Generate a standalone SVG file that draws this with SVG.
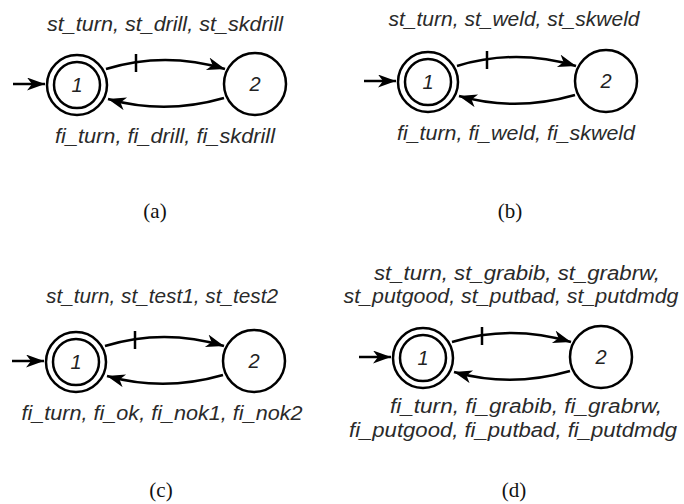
<svg xmlns="http://www.w3.org/2000/svg" width="684" height="504" viewBox="0 0 684 504">
<style>
.c{fill:#fff;stroke:#000;stroke-width:2.5}
.e{fill:none;stroke:#000;stroke-width:2.5}
.n{font-family:"Liberation Sans",Arial,sans-serif;font-style:italic;font-size:20px;fill:#222;text-anchor:middle}
.l{font-family:"Liberation Sans",Arial,sans-serif;font-style:italic;font-size:20px;fill:#2a2a2a;text-anchor:middle}
.cap{font-family:"Liberation Serif","Times New Roman",serif;font-size:21px;fill:#111;text-anchor:middle}
</style>
<defs>
<marker id="ah" markerUnits="userSpaceOnUse" markerWidth="22" markerHeight="16" refX="18" refY="6.5" orient="auto">
<path d="M0,0 L18,6.5 L0,13 L5,6.5 z" fill="#000"/>
</marker>
</defs>
<g id="connectors">
<g transform="translate(77,85)">
<path class="e" d="M-64,-1 L-32,-1" marker-end="url(#ah)"/>
<path class="e" d="M29,-16 Q88,-34 148,-16" marker-end="url(#ah)"/>
<path class="e" d="M59,-31 L59,-13"/>
<path class="e" d="M147,13 Q88,30 31,14" marker-end="url(#ah)"/>
</g>
<g transform="translate(428,82)">
<path class="e" d="M-64,-1 L-32,-1" marker-end="url(#ah)"/>
<path class="e" d="M29,-16 Q88,-34 148,-16" marker-end="url(#ah)"/>
<path class="e" d="M59,-31 L59,-13"/>
<path class="e" d="M147,13 Q88,30 31,14" marker-end="url(#ah)"/>
</g>
<g transform="translate(76,362)">
<path class="e" d="M-64,-1 L-32,-1" marker-end="url(#ah)"/>
<path class="e" d="M29,-16 Q88,-34 148,-16" marker-end="url(#ah)"/>
<path class="e" d="M59,-31 L59,-13"/>
<path class="e" d="M147,13 Q88,30 31,14" marker-end="url(#ah)"/>
</g>
<g transform="translate(423,358)">
<path class="e" d="M-64,-1 L-32,-1" marker-end="url(#ah)"/>
<path class="e" d="M29,-16 Q88,-34 148,-16" marker-end="url(#ah)"/>
<path class="e" d="M59,-31 L59,-13"/>
<path class="e" d="M147,13 Q88,30 31,14" marker-end="url(#ah)"/>
</g>
</g>
<g id="a1"><circle class="c" cx="77" cy="85" r="30"/><circle class="c" cx="77" cy="85" r="23"/><text class="n" x="77" y="92">1</text></g>
<g id="a2"><circle class="c" cx="255" cy="84" r="31"/><text class="n" x="255" y="91">2</text></g>
<g id="b1"><circle class="c" cx="428" cy="82" r="30"/><circle class="c" cx="428" cy="82" r="23"/><text class="n" x="428" y="89">1</text></g>
<g id="b2"><circle class="c" cx="606" cy="81" r="31"/><text class="n" x="606" y="88">2</text></g>
<g id="c1"><circle class="c" cx="76" cy="362" r="30"/><circle class="c" cx="76" cy="362" r="23"/><text class="n" x="76" y="369">1</text></g>
<g id="c2"><circle class="c" cx="254" cy="361" r="31"/><text class="n" x="254" y="368">2</text></g>
<g id="d1"><circle class="c" cx="423" cy="358" r="30"/><circle class="c" cx="423" cy="358" r="23"/><text class="n" x="423" y="365">1</text></g>
<g id="d2"><circle class="c" cx="601" cy="357" r="31"/><text class="n" x="601" y="364">2</text></g>
<g id="labels">
<text class="l" x="165" y="31" textLength="236" lengthAdjust="spacingAndGlyphs">st_turn, st_drill, st_skdrill</text>
<text class="l" x="165" y="143" textLength="220" lengthAdjust="spacingAndGlyphs">fi_turn, fi_drill, fi_skdrill</text>
<text class="l" x="514" y="26" textLength="251" lengthAdjust="spacingAndGlyphs">st_turn, st_weld, st_skweld</text>
<text class="l" x="516" y="140" textLength="238" lengthAdjust="spacingAndGlyphs">fi_turn, fi_weld, fi_skweld</text>
<text class="l" x="162" y="303" textLength="232" lengthAdjust="spacingAndGlyphs">st_turn, st_test1, st_test2</text>
<text class="l" x="162" y="420" textLength="281" lengthAdjust="spacingAndGlyphs">fi_turn, fi_ok, fi_nok1, fi_nok2</text>
<text class="l" x="517" y="280" textLength="286" lengthAdjust="spacingAndGlyphs">st_turn, st_grabib, st_grabrw,</text>
<text class="l" x="511" y="303" textLength="335" lengthAdjust="spacingAndGlyphs">st_putgood, st_putbad, st_putdmdg</text>
<text class="l" x="526" y="413" textLength="272" lengthAdjust="spacingAndGlyphs">fi_turn, fi_grabib, fi_grabrw,</text>
<text class="l" x="513" y="437" textLength="328" lengthAdjust="spacingAndGlyphs">fi_putgood, fi_putbad, fi_putdmdg</text>
<text class="cap" x="155" y="218">(a)</text>
<text class="cap" x="510" y="218">(b)</text>
<text class="cap" x="161" y="497">(c)</text>
<text class="cap" x="514" y="497">(d)</text>
</g>
</svg>
